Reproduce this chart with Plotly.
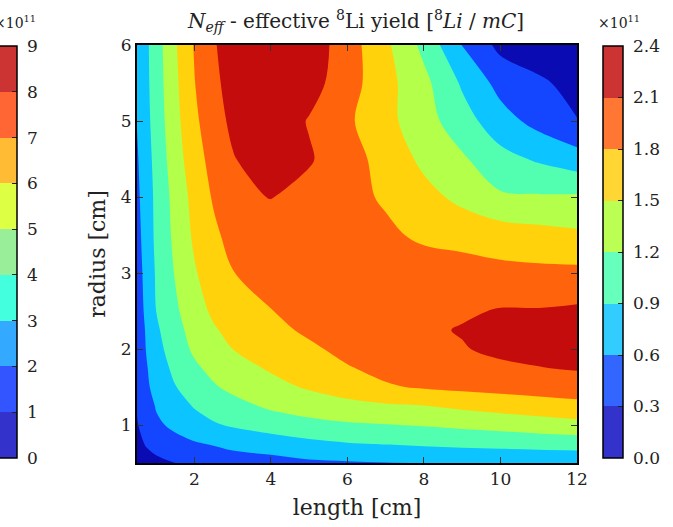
import plotly.graph_objects as go

# Grid of simulated 8Li yields (units of 1e11 per mC)
LENGTH = [0.5, 0.75, 1, 1.5, 2, 2.5, 3, 4, 5, 6, 7, 8, 9, 10, 11, 12]          # cm
RADIUS = [0.5, 0.75, 1, 1.25, 1.5, 1.75, 2, 2.25, 2.5, 3, 3.5, 4, 4.5, 5, 5.5, 6]  # cm

Y_R050 = [0.10, 0.17, 0.23, 0.30, 0.36, 0.41, 0.45, 0.48, 0.55, 0.57, 0.59, 0.60, 0.62, 0.63, 0.64, 0.65]
Y_R075 = [0.20, 0.33, 0.40, 0.51, 0.57, 0.62, 0.68, 0.76, 0.83, 0.88, 0.91, 0.94, 0.97, 0.99, 1.01, 1.03]
Y_R100 = [0.28, 0.43, 0.55, 0.66, 0.78, 0.87, 0.93, 1.02, 1.10, 1.16, 1.19, 1.22, 1.26, 1.30, 1.35, 1.40]
Y_R125 = [0.32, 0.47, 0.62, 0.78, 0.92, 1.02, 1.10, 1.25, 1.35, 1.42, 1.46, 1.49, 1.56, 1.62, 1.68, 1.73]
Y_R150 = [0.34, 0.55, 0.70, 0.89, 1.03, 1.17, 1.27, 1.42, 1.53, 1.63, 1.77, 1.83, 1.87, 1.90, 1.92, 1.93]
Y_R175 = [0.36, 0.58, 0.75, 0.97, 1.15, 1.28, 1.40, 1.53, 1.64, 1.78, 1.88, 1.95, 1.99, 2.04, 2.09, 2.13]
Y_R200 = [0.38, 0.62, 0.80, 1.05, 1.25, 1.38, 1.50, 1.63, 1.75, 1.88, 1.96, 2.02, 2.08, 2.17, 2.20, 2.22]
Y_R225 = [0.40, 0.64, 0.85, 1.10, 1.31, 1.47, 1.58, 1.72, 1.85, 1.95, 2.00, 2.05, 2.12, 2.20, 2.22, 2.24]
Y_R250 = [0.42, 0.68, 0.90, 1.15, 1.38, 1.55, 1.66, 1.79, 1.92, 1.98, 2.02, 2.04, 2.06, 2.12, 2.12, 2.15]
Y_R300 = [0.46, 0.71, 0.93, 1.22, 1.47, 1.66, 1.79, 1.95, 2.00, 2.02, 2.00, 1.96, 1.92, 1.88, 1.87, 1.87]
Y_R350 = [0.50, 0.74, 0.96, 1.27, 1.55, 1.74, 1.90, 2.02, 2.04, 1.97, 1.86, 1.74, 1.70, 1.65, 1.60, 1.55]
Y_R400 = [0.54, 0.75, 0.97, 1.30, 1.60, 1.83, 1.97, 2.11, 2.00, 1.90, 1.76, 1.60, 1.42, 1.24, 1.23, 1.24]
Y_R450 = [0.57, 0.78, 1.00, 1.36, 1.68, 1.90, 2.08, 2.28, 2.13, 1.91, 1.70, 1.43, 1.24, 1.00, 0.86, 0.73]
Y_R500 = [0.61, 0.82, 1.03, 1.41, 1.74, 1.98, 2.16, 2.30, 2.08, 1.85, 1.59, 1.32, 1.03, 0.72, 0.50, 0.31]
Y_R550 = [0.63, 0.84, 1.05, 1.44, 1.79, 2.04, 2.20, 2.32, 2.22, 1.93, 1.60, 1.28, 0.86, 0.50, 0.35, 0.20]
Y_R600 = [0.66, 0.85, 1.06, 1.47, 1.82, 2.08, 2.20, 2.30, 2.28, 1.94, 1.56, 1.12, 0.59, 0.22, 0.12, 0.08]

YIELD = [Y_R050, Y_R075, Y_R100, Y_R125, Y_R150, Y_R175, Y_R200, Y_R225,
         Y_R250, Y_R300, Y_R350, Y_R400, Y_R450, Y_R500, Y_R550, Y_R600]

LEVELS = [0.0, 0.3, 0.6, 0.9, 1.2, 1.5, 1.8, 2.1, 2.4]
LEVEL_TEXT = ["0.0", "0.3", "0.6", "0.9", "1.2", "1.5", "1.8", "2.1", "2.4"]
X_TICKS = [2, 4, 6, 8, 10, 12]
Y_TICKS = [1, 2, 3, 4, 5, 6]
SIDE_TICKS = [0, 1, 2, 3, 4, 5, 6, 7, 8, 9]

FILL_COLORS = ["#0b0bb4", "#1446ff", "#0cc4ff", "#52ffb0", "#b4ff4a", "#ffd20c", "#ff640c", "#c40c0c"]
BAR_COLORS = ["#3333cc", "#3366ff", "#33ccff", "#66ffbb", "#bbff55", "#ffd633", "#ff7733", "#cc3333"]
SIDE_COLORS = ["#3333cc", "#3355ff", "#33aaff", "#44ffdd", "#99ee99", "#ddff44", "#ffbb33", "#ff6633", "#cc3333"]

FONT = "DejaVu Serif"
PAD = "\u00a0"  # gap between colour bar and its labels


def stepped(colors):
    n = len(colors)
    scale = []
    for i, c in enumerate(colors):
        scale.append([i / n, c])
        scale.append([(i + 1) / n, c])
    return scale


# plot area in pixels
W, H = 673, 527
L, R, T, B = 137, 577, 45, 463
pw, ph = R - L, B - T


def px_x(p):
    return (p - L) / pw


def px_y(p):
    return (B - p) / ph


fig = go.Figure()

fig.add_trace(go.Contour(
    x=LENGTH, y=RADIUS, z=YIELD,
    zmin=LEVELS[0], zmax=LEVELS[-1],
    contours=dict(start=LEVELS[0], end=LEVELS[-1], size=LEVELS[1] - LEVELS[0], coloring="fill"),
    colorscale=stepped(FILL_COLORS),
    line=dict(width=0, smoothing=1.0),
    showscale=False,
    hoverinfo="skip",
))

bar_len = 458 - 46
bar_y = px_y((458 + 46) / 2)

# colour bar for the yield scale
fig.add_trace(go.Scatter(
    x=[-5], y=[-5], mode="markers", hoverinfo="skip", showlegend=False,
    marker=dict(
        color=[0], cmin=LEVELS[0], cmax=LEVELS[-1], colorscale=stepped(BAR_COLORS),
        showscale=True,
        colorbar=dict(
            x=px_x(603), xanchor="left", xpad=0, ypad=0,
            y=bar_y, yanchor="middle", len=bar_len, lenmode="pixels",
            thickness=20, thicknessmode="pixels",
            outlinewidth=1.5, outlinecolor="black",
            tickvals=LEVELS, ticktext=[PAD + t for t in LEVEL_TEXT],
            ticks="inside", ticklen=5, tickwidth=1, tickcolor="#222",
            tickfont=dict(family=FONT, size=17, color="#222"),
        ),
    ),
))

# neighbouring panel's colour bar (0-9 scale)
fig.add_trace(go.Scatter(
    x=[-5], y=[-5], mode="markers", hoverinfo="skip", showlegend=False,
    marker=dict(
        color=[0], cmin=SIDE_TICKS[0], cmax=SIDE_TICKS[-1], colorscale=stepped(SIDE_COLORS),
        showscale=True,
        colorbar=dict(
            x=px_x(-3), xanchor="left", xpad=0, ypad=0,
            y=bar_y, yanchor="middle", len=bar_len, lenmode="pixels",
            thickness=20, thicknessmode="pixels",
            outlinewidth=1.5, outlinecolor="black",
            tickvals=SIDE_TICKS, ticktext=[PAD + str(v) for v in SIDE_TICKS],
            ticks="inside", ticklen=5, tickwidth=1, tickcolor="#222",
            tickfont=dict(family=FONT, size=17, color="#222"),
        ),
    ),
))

axis_common = dict(
    showline=True, linecolor="black", linewidth=2, mirror="ticks",
    ticks="inside", ticklen=6, tickwidth=1, tickcolor="#333",
    showgrid=False, zeroline=False,
    tickfont=dict(family=FONT, size=17, color="#222"),
)

fig.update_layout(
    width=W, height=H,
    margin=dict(l=L, r=W - R, t=T, b=H - B, autoexpand=False),
    paper_bgcolor="white", plot_bgcolor="white",
    font=dict(family=FONT, color="#222"),
    showlegend=False,
    title=dict(
        text="<i>N</i><sub><i>eff</i></sub> - effective <sup>8</sup>Li yield "
             "[<sup>8</sup><i>Li</i> / <i>mC</i>]",
        x=px_x(356), xanchor="center", xref="paper",
        y=1 - 21 / H, yanchor="middle",
        font=dict(family=FONT, size=20, color="#222"),
    ),
    xaxis=dict(
        range=[0.5, 12], tickvals=X_TICKS,
        title=dict(text="length [cm]", font=dict(family=FONT, size=22, color="#222"), standoff=11),
        **axis_common,
    ),
    yaxis=dict(
        range=[0.5, 6], tickvals=Y_TICKS,
        title=dict(text="radius [cm]", font=dict(family=FONT, size=22, color="#222"), standoff=9),
        **axis_common,
    ),
    annotations=[
        dict(text="×10<sup>11</sup>", xref="paper", yref="paper",
             x=px_x(619), y=px_y(22), xanchor="center", yanchor="middle",
             showarrow=False, font=dict(family=FONT, size=14, color="#222")),
        dict(text="×10<sup>11</sup>", xref="paper", yref="paper",
             x=px_x(15), y=px_y(22), xanchor="center", yanchor="middle",
             showarrow=False, font=dict(family=FONT, size=14, color="#222")),
    ],
)

fig.write_html("out.html")
